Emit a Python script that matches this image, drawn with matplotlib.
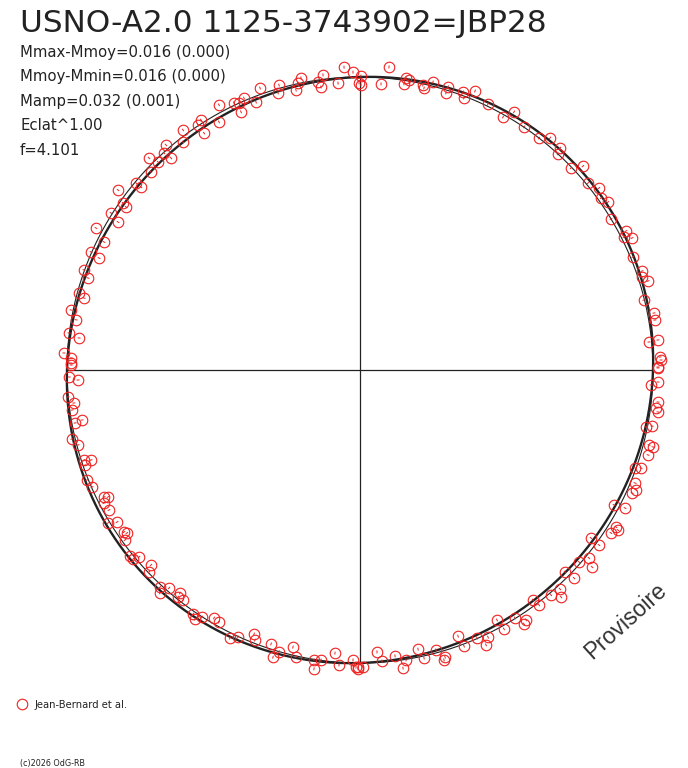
import numpy as np
import matplotlib.pyplot as plt
from matplotlib.collections import LineCollection

# light curve folded on phase, plotted as a polar diagram
# phase in degrees (clockwise from top), dmag = mag - Mmoy
phase_deg = [
    356.98, 358.65, 359.8, 355.62, 352.85, 351.7, 352.15, 348.58, 347.81, 347.12,
    344.13, 343.51, 340.48, 338.79, 336.9, 335.62, 335.24, 334.74, 331.98, 330.38,
    327.54, 326.53, 326.65, 323.59, 322.18, 319.23, 317.91, 318.28, 315.14, 315.84,
    313.45, 309.86, 309.88, 306.64, 305.17, 304.86, 302.23, 301.45, 298.27, 296.57,
    293.68, 293.22, 289.92, 288.69, 285.32, 284.62, 281.73, 280.02, 277.25, 276.5,
    273.29, 272.38, 271.39,
    5.47, 0.19, 0.2, 4.2, 8.95, 8.75, 9.59, 12.46, 12.79, 14.22,
    17.27, 17.25, 20.33, 22.40, 20.92, 25.70, 29.48, 30.83, 34.01, 37.66,
    39.31, 42.02, 42.5, 46.25, 47.55, 50.65, 52.71, 54.48, 55.89, 58.97,
    62.41, 63.26, 64.11, 67.51, 70.66, 71.75, 72.83, 76.15, 79.03, 80.38,
    84.25, 84.47, 87.52, 88.1, 89.42,
    89.6, 92.31, 92.95, 96.13, 97.32, 98.02, 101.27, 100.86, 104.55, 104.72,
    106.44, 109.61, 109.22, 112.34, 113.5, 114.33, 117.99, 117.51, 121.52, 121.81,
    123.0, 126.03, 126.21, 131.24, 129.39, 130.33, 134.58, 134.19, 137.6, 139.67,
    138.48, 143.06, 142.7, 147.99, 146.42, 147.15, 151.28, 150.93, 154.39, 155.38,
    156.41, 159.78, 159.36, 164.81, 163.5, 163.85, 168.26, 167.47, 173.02, 170.99,
    171.79, 176.55, 175.68, 179.42, 180.39,
    270.99, 268.62, 267.97, 264.72, 263.42, 262.09, 259.8, 259.47, 256.53, 255.11,
    251.94, 251.5, 250.94, 248.06, 246.41, 243.61, 243.26, 242.55, 240.85, 237.97,
    238.74, 235.53, 235.03, 234.12, 231.04, 229.76, 230.22, 226.98, 226.25, 222.67,
    221.22, 221.88, 218.9, 218.72, 217.58, 214.38, 212.61, 213.53, 210.48, 209.23,
    205.88, 204.56, 201.87, 201.25, 197.99, 196.86, 196.03, 193.6, 192.57, 189.01,
    188.75, 187.66, 185.05, 184.07, 181.38, 180.77, 180.38,
]
dmag = [
    0.035, 0.017, -0.020, -0.018, 0.015, -0.007, -0.025, 0.017, 0.002, -0.020,
    0.011, -0.014, 0.021, -0.019, 0.009, 0.000, -0.030, 0.008, 0.025, -0.026,
    0.011, 0.002, -0.032, 0.018, -0.015, 0.014, -0.002, -0.031, 0.021, -0.011,
    -0.017, -0.004, -0.026, 0.029, -0.011, -0.027, 0.005, -0.032, 0.023, -0.023,
    0.002, -0.031, 0.002, -0.020, -0.005, -0.027, 0.007, -0.016, 0.001, -0.035,
    0.012, -0.013, -0.013,
    0.039, 0.003, -0.027, -0.021, 0.009, -0.012, 0.004, -0.004, -0.013, 0.014,
    0.012, -0.010, 0.012, 0.030, -0.006, 0.007, -0.008, 0.026, 0.001, 0.000,
    0.024, 0.020, 0.000, -0.003, 0.031, 0.006, 0.025, 0.011, 0.022, 0.000,
    0.024, 0.009, 0.032, 0.008, 0.020, 0.013, 0.029, -0.002, 0.022, 0.021,
    0.022, -0.009, 0.025, 0.028, 0.017,
    0.017, 0.018, -0.005, 0.023, 0.019, 0.027, -0.005, 0.015, 0.019, 0.034,
    0.025, -0.004, 0.016, 0.015, 0.027, 0.019, -0.018, 0.020, 0.025, 0.036,
    0.021, -0.025, 0.011, -0.006, 0.011, 0.039, -0.018, 0.019, 0.012, 0.007,
    0.035, -0.018, 0.008, -0.002, 0.024, 0.032, -0.027, 0.011, 0.011, 0.032,
    -0.002, -0.032, 0.007, -0.010, 0.022, 0.030, -0.027, 0.007, -0.017, 0.002,
    0.028, -0.036, -0.004, 0.014, 0.014,
    -0.014, -0.007, -0.037, 0.001, -0.017, -0.008, -0.036, -0.011, 0.011, -0.004,
    -0.009, -0.032, -0.007, 0.005, -0.002, -0.025, -0.037, -0.015, -0.019, -0.022,
    0.006, -0.023, -0.029, -0.010, 0.010, -0.012, 0.008, -0.024, -0.003, 0.007,
    -0.011, 0.022, -0.022, -0.007, -0.009, 0.009, 0.001, 0.020, -0.018, -0.014,
    0.017, 0.002, -0.029, -0.011, -0.017, 0.024, 0.001, -0.027, 0.003, 0.002,
    0.032, -0.001, -0.030, 0.009, -0.010, 0.014, 0.020,
]
mag_err = 0.005

title = "USNO-A2.0 1125-3743902=JBP28"
info_lines = [
    "Mmax-Mmoy=0.016 (0.000)",
    "Mmoy-Mmin=0.016 (0.000)",
    "Mamp=0.032 (0.001)",
    "Eclat^1.00",
    "f=4.101",
]
half_amp = 0.016
observer = "Jean-Bernard et al."
stamp = "(c)2026 OdG-RB"

RED = "#f02020"
INK = "#222222"
W, H = 688, 768
CX, CY, R = 360, 370, 293  # pixel centre and radius of the mean circle

fig = plt.figure(figsize=(W / 100, H / 100), dpi=100)
ax = fig.add_axes([0, 0, 1, 1])
ax.set_xlim(-CX / R, (W - CX) / R)
ax.set_ylim(-(H - CY) / R, CY / R)
ax.axis("off")

# axes cross
ax.plot([-1, 1], [0, 0], color=INK, lw=0.9)
ax.plot([0, 0], [-1, 1], color=INK, lw=0.9)

# mean circle and fitted curve
t = np.radians(np.linspace(0, 360, 721))
ax.plot(np.sin(t), np.cos(t), color=INK, lw=0.8)
r_fit = 1 + half_amp * np.sin(2 * t)
ax.plot(r_fit * np.sin(t), r_fit * np.cos(t), color=INK, lw=1.7)

# observations
th = np.radians(np.array(phase_deg))
r = 1 + np.array(dmag)
px, py = r * np.sin(th), r * np.cos(th)
segs = [
    [((ri - mag_err) * np.sin(a), (ri - mag_err) * np.cos(a)),
     ((ri + mag_err) * np.sin(a), (ri + mag_err) * np.cos(a))]
    for ri, a in zip(r, th)
]
ax.add_collection(LineCollection(segs, colors=RED, linewidths=0.7))
ax.plot(px, py, "o", ms=7.6, mfc="none", mec=RED, mew=0.8)

font = "DejaVu Sans"
fig.text(20 / W, 1 - 32 / H, title, fontsize=22.4, family=font, color=INK,
         va="baseline", ha="left")
for i, line in enumerate(info_lines):
    fig.text(20 / W, 1 - (57 + 24.5 * i) / H, line, fontsize=10.7, family=font,
             color=INK, va="baseline", ha="left")

fig.text(626 / W, 1 - 621 / H, "Provisoire", fontsize=16.5, family="Liberation Sans",
         color="#333333", rotation=42, ha="center", va="center")

# legend
fig.lines.append(plt.Line2D([22 / W], [1 - 704 / H], marker="o", ms=7.6, mfc="none",
                            mec=RED, mew=0.8, transform=fig.transFigure))
fig.text(35 / W, 1 - 708 / H, observer, fontsize=7.2, family=font, color=INK,
         va="baseline", ha="left")
fig.text(20 / W, 1 - 766 / H, stamp, fontsize=5.8, family=font, color=INK,
         va="baseline", ha="left")

fig.savefig("out.png", dpi=100)
